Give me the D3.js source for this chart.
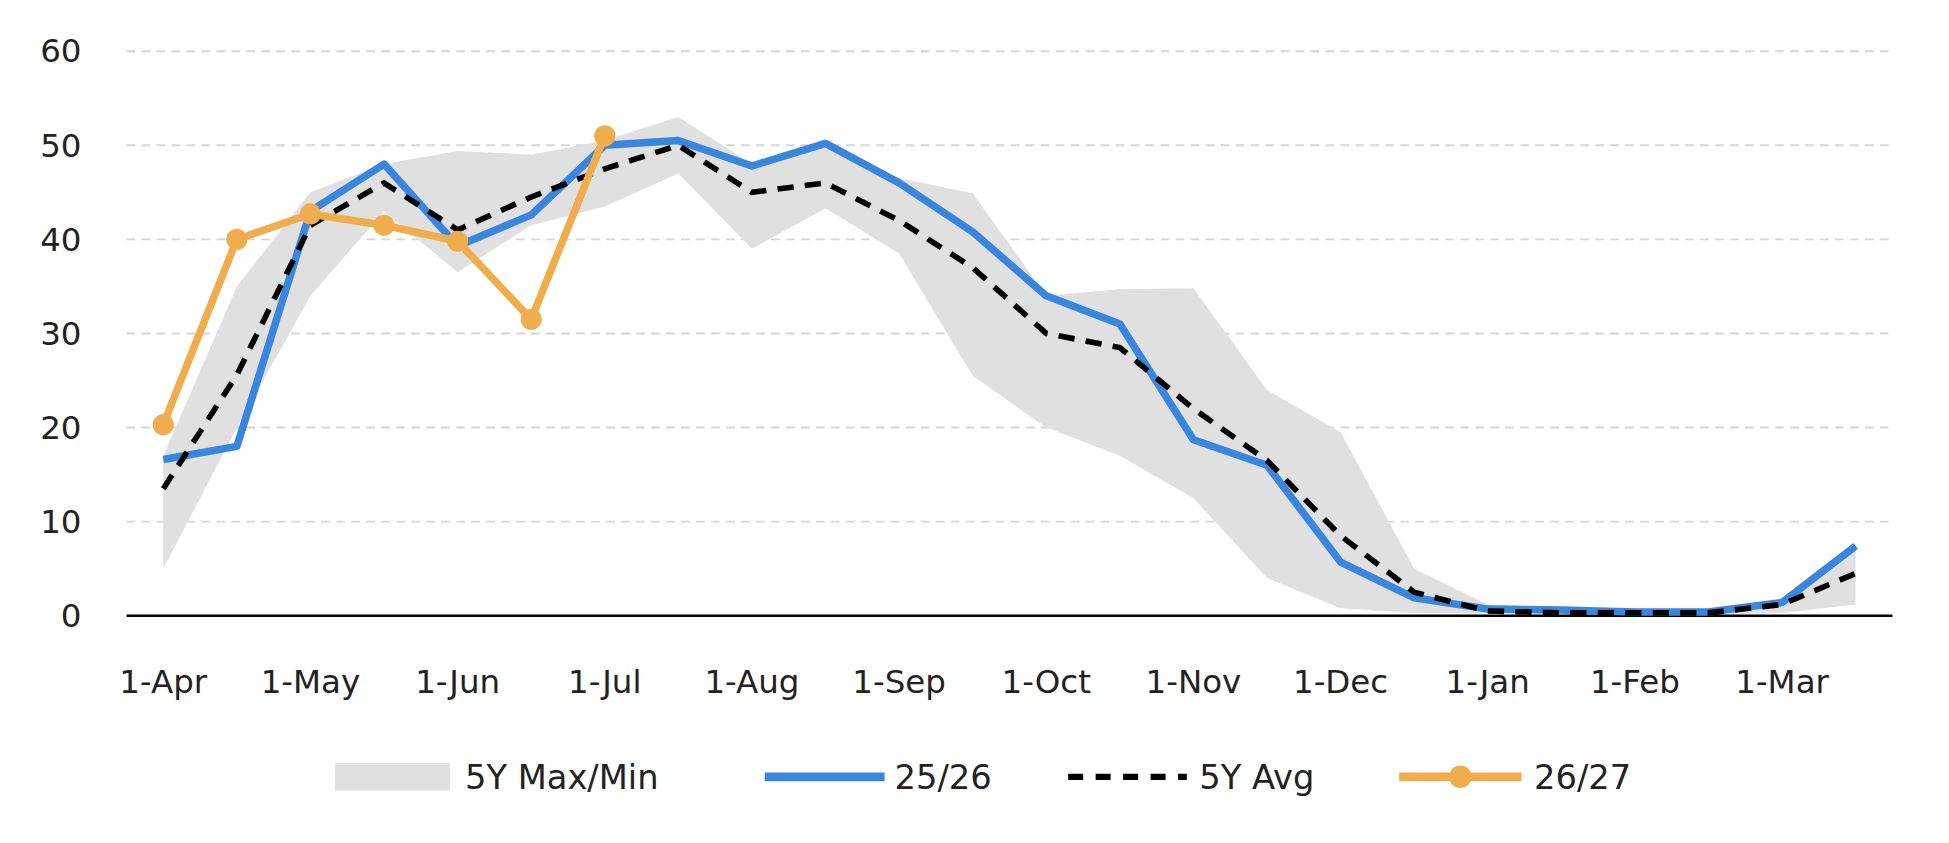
<!DOCTYPE html>
<html><head><meta charset="utf-8">
<script src="https://cdn.jsdelivr.net/npm/d3@7"></script>
<style>body{margin:0;background:#fff}text{font-family:"DejaVu Sans",sans-serif;fill:#222}</style>
</head><body>
<svg id="c" width="1949" height="843" viewBox="0 0 1560 675"></svg>
<script>
var months = ["1-Apr","1-May","1-Jun","1-Jul","1-Aug","1-Sep","1-Oct","1-Nov","1-Dec","1-Jan","1-Feb","1-Mar"];
var periods = d3.range(24);
var s2526 = [16.6,18,43,48,39.3,42.6,50,50.5,47.8,50.2,46,40.8,34,31,18.7,16,5.7,1.9,0.7,0.6,0.4,0.4,1.4,7.4];
var avg5 = [13.5,25.6,41.5,46,41,44.5,47.5,50,45,46,42,37,30,28.5,22,16.5,8.5,2.5,0.5,0.3,0.3,0.3,1.2,4.5];
var s2627 = [20.3,40,42.7,41.5,39.8,31.5,51];
var max5 = [17,35,45,48,49.4,49,50.5,53,48,50.3,46.5,44.9,34,34.7,34.8,24,19.5,5,1.2,0.8,0.6,0.6,1.6,7];
var min5 = [5,20,34,43,36.5,41.5,43.5,47,39,43.3,38.5,25.5,20,17,12.5,4,0.8,0.3,0.2,0.1,0.1,0.1,0.3,1.2];
var yTicks = [0,10,20,30,40,50,60];

var svg = d3.select("#c");
var x = d3.scaleBand().domain(periods).range([101,1515]);
var cx = function(i){ return x(i) + x.bandwidth()/2; };
var y = d3.scaleLinear().domain([0,60]).range([493,41]);

svg.selectAll(".grid").data(yTicks.slice(1)).enter().append("line")
  .attr("x1",101).attr("x2",1515).attr("y1",y).attr("y2",y)
  .attr("stroke","#d6d6d6").attr("stroke-width",1.5).attr("stroke-dasharray","7,5");
svg.selectAll(".yl").data(yTicks).enter().append("text")
  .attr("x",65).attr("y",function(d){return y(d)+9;}).attr("text-anchor","end")
  .attr("font-size",26).text(function(d){return d;});

svg.append("path").datum(periods)
  .attr("d", d3.area().x(cx).y0(function(i){return y(min5[i]);}).y1(function(i){return y(max5[i]);}))
  .attr("fill","#e0e0e0");

svg.append("line").attr("x1",101).attr("x2",1515).attr("y1",y(0)).attr("y2",y(0))
  .attr("stroke","#000").attr("stroke-width",2);

months.forEach(function(m,k){
  svg.append("text").attr("x",cx(k*2)).attr("y",555).attr("text-anchor","middle")
    .attr("font-size",26).text(m);
});

var line = function(arr){ return d3.line().x(function(d,i){return cx(i);}).y(function(d){return y(d);})(arr); };
svg.append("path").attr("d",line(s2526)).attr("fill","none").attr("stroke","#3a86dc").attr("stroke-width",6).attr("stroke-linejoin","round");
svg.append("path").attr("d",line(avg5)).attr("fill","none").attr("stroke","#000").attr("stroke-width",4.5).attr("stroke-dasharray","13,9");
svg.append("path").attr("d",line(s2627)).attr("fill","none").attr("stroke","#f0ad4e").attr("stroke-width",6).attr("stroke-linejoin","round");
svg.selectAll(".dot").data(s2627).enter().append("circle")
  .attr("cx",function(d,i){return cx(i);}).attr("cy",y).attr("r",8.5).attr("fill","#f0ad4e");

// legend
var ly = 622;
svg.append("rect").attr("x",268).attr("y",611).attr("width",92).attr("height",22).attr("fill","#e0e0e0");
svg.append("text").attr("x",372).attr("y",ly+10).attr("font-size",27).text("5Y Max/Min");
svg.append("line").attr("x1",612).attr("x2",708).attr("y1",ly).attr("y2",ly).attr("stroke","#3a86dc").attr("stroke-width",7);
svg.append("text").attr("x",716).attr("y",ly+10).attr("font-size",27).text("25/26");
svg.append("line").attr("x1",855).attr("x2",950).attr("y1",ly).attr("y2",ly).attr("stroke","#000").attr("stroke-width",5).attr("stroke-dasharray","12,10");
svg.append("text").attr("x",960).attr("y",ly+10).attr("font-size",27).text("5Y Avg");
svg.append("line").attr("x1",1120).attr("x2",1218).attr("y1",ly).attr("y2",ly).attr("stroke","#f0ad4e").attr("stroke-width",7);
svg.append("circle").attr("cx",1169).attr("cy",ly).attr("r",9).attr("fill","#f0ad4e");
svg.append("text").attr("x",1228).attr("y",ly+10).attr("font-size",27).text("26/27");
</script>
</body></html>
